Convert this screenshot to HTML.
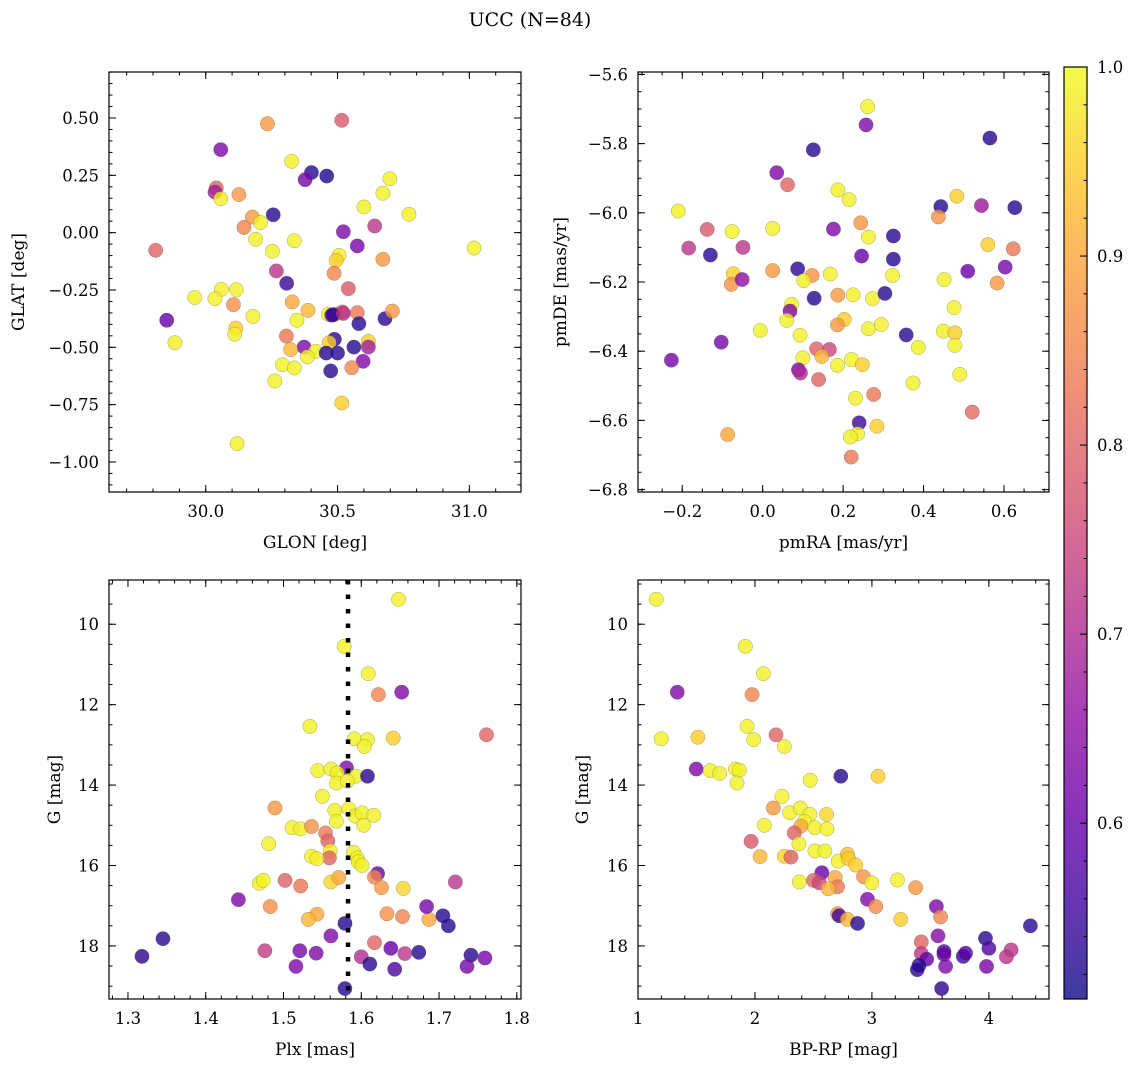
<!DOCTYPE html>
<html><head><meta charset="utf-8">
<style>
body{margin:0;background:#fff;}
svg{display:block;font-family:"DejaVu Serif","Liberation Serif",serif;}
</style></head>
<body>
<svg id="fig" width="1136" height="1067" viewBox="0 0 1136 1067" xmlns="http://www.w3.org/2000/svg">
<defs>
<linearGradient id="plasma" x1="0" y1="1" x2="0" y2="0">
<stop offset="0" stop-color="#0d0887"/><stop offset="0.1" stop-color="#41049d"/><stop offset="0.2" stop-color="#6a00a8"/>
<stop offset="0.3" stop-color="#8f0da4"/><stop offset="0.4" stop-color="#b12a90"/><stop offset="0.5" stop-color="#cc4778"/>
<stop offset="0.6" stop-color="#e16462"/><stop offset="0.7" stop-color="#f2844b"/><stop offset="0.8" stop-color="#fca636"/>
<stop offset="0.9" stop-color="#fcce25"/><stop offset="1" stop-color="#f0f921"/>
</linearGradient>
</defs>
<text x="530" y="26" font-size="19" text-anchor="middle">UCC (N=84)</text>
</svg>
<script>
// ---- Panel 1: GLON / GLAT ----
const glon = [30.234,30.516,30.057,30.326,30.401,30.459,30.377,30.040,30.035,30.057,30.126,30.698,30.672,30.600,30.771,30.256,30.177,30.208,30.145,30.641,30.189,30.336,30.522,30.575,29.810,30.253,31.018,30.506,30.495,30.672,30.487,30.268,30.307,30.541,29.958,30.059,30.035,30.116,30.105,30.328,29.852,30.179,30.388,30.346,30.465,30.493,30.518,30.575,30.581,30.680,30.708,30.478,29.883,30.114,30.110,30.306,30.488,30.468,30.373,30.322,30.417,30.385,30.457,30.500,30.562,30.617,30.617,30.597,30.554,30.291,30.336,30.474,30.262,30.516,30.119,30.483,30.522];
const glat = [0.475,0.490,0.362,0.311,0.262,0.247,0.231,0.195,0.177,0.148,0.166,0.235,0.172,0.112,0.080,0.078,0.068,0.044,0.023,0.029,-0.029,-0.035,0.004,-0.058,-0.077,-0.081,-0.067,-0.099,-0.121,-0.116,-0.177,-0.167,-0.221,-0.244,-0.283,-0.247,-0.288,-0.249,-0.314,-0.302,-0.382,-0.365,-0.339,-0.382,-0.356,-0.356,-0.346,-0.349,-0.397,-0.375,-0.342,-0.360,-0.480,-0.416,-0.443,-0.451,-0.465,-0.480,-0.499,-0.510,-0.517,-0.542,-0.525,-0.525,-0.499,-0.474,-0.499,-0.561,-0.589,-0.576,-0.590,-0.603,-0.647,-0.743,-0.920,-0.358,-0.352];
const prob1 = [0.88,0.78,0.63,0.99,0.53,0.52,0.62,0.8,0.68,0.99,0.88,0.99,0.99,0.99,0.99,0.53,0.88,0.99,0.85,0.72,0.99,0.99,0.63,0.62,0.8,0.99,0.99,0.99,0.95,0.88,0.85,0.72,0.55,0.78,0.99,0.99,0.99,0.99,0.87,0.9,0.6,0.99,0.92,0.99,0.99,0.99,0.78,0.83,0.53,0.53,0.88,0.62,0.99,0.95,0.99,0.83,0.53,0.95,0.63,0.92,0.99,0.99,0.53,0.53,0.53,0.95,0.68,0.63,0.86,0.99,0.99,0.53,0.99,0.95,0.99,0.53,0.72];
// ---- Panel 2: pmRA / pmDE ----
const pmra = [0.261,0.257,0.565,0.126,0.035,0.062,0.187,0.215,0.483,0.443,0.437,0.544,0.627,-0.210,-0.138,-0.076,0.025,0.176,0.244,0.263,0.325,-0.184,-0.130,-0.049,0.246,0.325,0.560,0.623,0.025,0.087,0.123,0.102,0.168,0.323,0.451,0.510,0.603,0.583,-0.073,-0.078,-0.051,0.128,0.187,0.225,0.273,0.304,0.476,0.072,0.068,0.060,0.203,0.186,0.263,0.295,-0.006,0.449,0.478,0.357,0.093,0.478,0.387,-0.103,0.134,0.166,0.147,0.100,0.221,0.248,0.186,-0.227,0.089,0.094,0.139,0.490,0.374,0.231,0.276,0.521,0.240,0.284,0.236,0.218,-0.087,0.220];
const pmde = [-5.693,-5.746,-5.784,-5.818,-5.884,-5.919,-5.934,-5.962,-5.952,-5.982,-6.012,-5.979,-5.985,-5.995,-6.048,-6.054,-6.045,-6.047,-6.029,-6.070,-6.067,-6.102,-6.122,-6.100,-6.125,-6.134,-6.092,-6.104,-6.167,-6.162,-6.181,-6.196,-6.177,-6.181,-6.193,-6.169,-6.157,-6.203,-6.176,-6.207,-6.193,-6.247,-6.238,-6.237,-6.248,-6.233,-6.274,-6.265,-6.284,-6.311,-6.308,-6.324,-6.335,-6.323,-6.340,-6.342,-6.347,-6.353,-6.354,-6.383,-6.389,-6.374,-6.393,-6.395,-6.415,-6.419,-6.424,-6.439,-6.441,-6.426,-6.454,-6.463,-6.482,-6.467,-6.492,-6.536,-6.525,-6.576,-6.607,-6.617,-6.639,-6.648,-6.641,-6.706];
const prob2 = [0.99,0.63,0.53,0.53,0.63,0.8,0.99,0.99,0.95,0.53,0.87,0.67,0.53,0.99,0.78,0.99,0.99,0.63,0.88,0.99,0.53,0.72,0.53,0.72,0.6,0.53,0.95,0.83,0.88,0.53,0.87,0.99,0.99,0.99,0.99,0.6,0.62,0.88,0.95,0.87,0.65,0.53,0.88,0.99,0.99,0.53,0.99,0.99,0.63,0.99,0.95,0.88,0.99,0.99,0.99,0.99,0.95,0.53,0.99,0.99,0.99,0.62,0.8,0.75,0.92,0.99,0.99,0.95,0.99,0.62,0.62,0.7,0.8,0.99,0.99,0.99,0.83,0.81,0.55,0.95,0.99,0.99,0.9,0.83];
// ---- Panel 3: Plx / G ----
const plx = [1.648,1.578,1.609,1.622,1.652,1.534,1.761,1.591,1.608,1.604,1.641,1.544,1.561,1.581,1.569,1.593,1.608,1.568,1.582,1.550,1.489,1.566,1.584,1.592,1.601,1.616,1.568,1.603,1.511,1.522,1.536,1.554,1.557,1.481,1.560,1.559,1.536,1.543,1.590,1.595,1.596,1.601,1.621,1.617,1.626,1.654,1.469,1.474,1.502,1.522,1.561,1.571,1.721,1.442,1.483,1.543,1.532,1.579,1.633,1.653,1.687,1.684,1.705,1.712,1.345,1.318,1.561,1.476,1.521,1.542,1.617,1.638,1.656,1.674,1.600,1.611,1.643,1.516,1.741,1.759,1.736,1.579];
const gmag3 = [9.38,10.55,11.23,11.75,11.69,12.54,12.75,12.85,12.87,13.04,12.83,13.64,13.60,13.57,13.70,13.78,13.78,13.95,13.90,14.28,14.57,14.63,14.59,14.77,14.69,14.75,14.90,15.00,15.06,15.09,15.03,15.19,15.39,15.46,15.64,15.81,15.77,15.83,15.67,15.81,15.91,16.00,16.20,16.29,16.55,16.57,16.44,16.37,16.37,16.51,16.41,16.30,16.41,16.85,17.02,17.21,17.34,17.44,17.20,17.27,17.34,17.02,17.25,17.50,17.82,18.26,17.75,18.12,18.12,18.18,17.92,18.06,18.19,18.16,18.27,18.45,18.58,18.51,18.23,18.30,18.51,19.06];
const prob3 = [0.99,0.99,0.99,0.85,0.63,0.99,0.8,0.99,0.99,0.99,0.95,0.99,0.99,0.63,0.99,0.99,0.53,0.99,0.99,0.99,0.88,0.99,0.99,0.99,0.99,0.99,0.99,0.99,0.99,0.99,0.87,0.83,0.8,0.99,0.99,0.8,0.99,0.99,0.99,0.99,0.99,0.99,0.6,0.85,0.88,0.96,0.99,0.99,0.8,0.83,0.96,0.9,0.72,0.63,0.87,0.9,0.92,0.53,0.87,0.85,0.9,0.62,0.53,0.53,0.53,0.53,0.63,0.73,0.62,0.63,0.8,0.6,0.72,0.53,0.7,0.53,0.57,0.63,0.53,0.62,0.62,0.53];
// ---- Panel 4: BP-RP / G ----
const bprp = [1.156,1.918,2.072,1.975,1.336,1.933,2.180,1.989,2.251,1.199,1.512,1.498,1.617,1.699,1.833,1.867,1.847,2.734,3.053,2.473,2.231,2.157,2.297,2.388,2.470,2.612,2.422,2.393,2.513,2.615,2.080,2.336,1.967,2.376,2.513,2.598,2.251,2.308,2.044,2.712,2.791,2.800,2.862,2.572,2.928,2.999,3.218,3.374,2.379,2.501,2.550,2.686,2.706,2.626,2.962,3.033,2.706,2.720,2.791,2.877,3.246,3.551,3.587,4.355,3.565,3.422,3.971,4.000,3.422,3.468,3.403,3.388,3.616,3.616,3.781,3.801,3.630,3.980,4.190,4.150,3.596];
const gmag4 = [9.38,10.55,11.23,11.75,11.69,12.54,12.75,12.87,13.04,12.85,12.81,13.60,13.64,13.71,13.60,13.63,13.95,13.78,13.78,13.88,14.28,14.57,14.69,14.57,14.73,14.73,14.90,15.02,15.06,15.09,15.00,15.19,15.40,15.46,15.64,15.64,15.77,15.79,15.78,15.89,15.72,15.83,15.99,16.18,16.28,16.43,16.36,16.55,16.41,16.37,16.43,16.30,16.53,16.58,16.84,17.02,17.20,17.25,17.34,17.44,17.34,17.02,17.28,17.50,17.75,17.90,17.81,18.06,18.19,18.33,18.48,18.59,18.14,18.21,18.26,18.18,18.51,18.51,18.10,18.27,19.06];
const prob4 = [0.99,0.99,0.99,0.85,0.63,0.99,0.8,0.99,0.99,0.99,0.95,0.63,0.99,0.99,0.99,0.99,0.99,0.53,0.95,0.99,0.99,0.88,0.99,0.99,0.99,0.96,0.99,0.9,0.99,0.99,0.99,0.8,0.78,0.99,0.99,0.99,0.96,0.8,0.92,0.99,0.93,0.95,0.95,0.6,0.87,0.99,0.99,0.88,0.99,0.8,0.75,0.9,0.83,0.92,0.63,0.86,0.87,0.55,0.92,0.53,0.95,0.63,0.85,0.53,0.64,0.8,0.53,0.57,0.72,0.6,0.53,0.53,0.57,0.6,0.55,0.58,0.63,0.62,0.72,0.72,0.53];
const plxRef = [1.583];
const cbarTicks = [0.6,0.7,0.8,0.9,1.0];

const svg = document.getElementById('fig');
const NS = 'http://www.w3.org/2000/svg';
const vmin = 0.507, vmax = 1.0;
const stops = [[0,[13,8,135]],[0.1,[65,4,157]],[0.2,[106,0,168]],[0.3,[143,13,164]],[0.4,[177,42,144]],[0.5,[204,71,120]],[0.6,[225,100,98]],[0.7,[242,132,75]],[0.8,[252,166,54]],[0.9,[252,206,37]],[1,[240,249,33]]];
function cmap(v){
  let t = Math.max(0, Math.min(1, (v - vmin) / (vmax - vmin)));
  for (let i = 1; i < stops.length; i++) {
    if (t <= stops[i][0]) {
      const a = stops[i-1], b = stops[i], f = (t - a[0]) / (b[0] - a[0]);
      const c = a[1].map((x, k) => Math.round(x + (b[1][k] - x) * f));
      return 'rgb(' + c.join(',') + ')';
    }
  }
  return 'rgb(240,249,33)';
}
function mk(tag, attrs, parent){
  const e = document.createElementNS(NS, tag);
  for (const k in attrs) e.setAttribute(k, attrs[k]);
  (parent || svg).appendChild(e);
  return e;
}
function range(a, b, s){ const r = []; for (let v = a; v <= b + s*1e-6; v += s) r.push(+v.toFixed(6)); return r; }

function panel(cfg){
  const {x0, y0, w, h, xmin, xmax, ymin, ymax, xs, ys, ps, name} = cfg;
  const sx = v => x0 + (v - xmin) / (xmax - xmin) * w;
  const sy = cfg.invert ? (v => y0 + (v - ymin) / (ymax - ymin) * h) : (v => y0 + h - (v - ymin) / (ymax - ymin) * h);
  const g = mk('g', {});
  
  
  const pts = mk('g', {}, g);
  
  
  for (let i = 0; i < xs.length; i++) {
    const c = mk('circle', {cx: sx(xs[i]), cy: sy(ys[i]), r: 7.2, fill: cmap(ps[i]), 'fill-opacity': 0.8, stroke: '#555', 'stroke-opacity': 0.5, 'stroke-width': 0.5}, pts);
    
    
  }
  if (cfg.extra) cfg.extra(g, sx, sy);
  const ax = mk('g', {stroke: '#000', 'stroke-width': 1}, g);
  
  
  mk('rect', {x: x0, y: y0, width: w, height: h, fill: 'none', 'stroke-width': 1.2}, ax);
  cfg.xminor.forEach(v => { const X = sx(v); if (X < x0 || X > x0 + w) return; mk('line', {x1: X, x2: X, y1: y0 + h, y2: y0 + h - 3.5}, ax); mk('line', {x1: X, x2: X, y1: y0, y2: y0 + 3.5}, ax); });
  cfg.yminor.forEach(v => { const Y = sy(v); if (Y < y0 || Y > y0 + h) return; mk('line', {x1: x0, x2: x0 + 3.5, y1: Y, y2: Y}, ax); mk('line', {x1: x0 + w, x2: x0 + w - 3.5, y1: Y, y2: Y}, ax); });
  cfg.xmajor.forEach((v, i) => {
    const X = sx(v);
    mk('line', {x1: X, x2: X, y1: y0 + h, y2: y0 + h - 7}, ax); mk('line', {x1: X, x2: X, y1: y0, y2: y0 + 7}, ax);
    const t = mk('text', {x: X, y: y0 + h + 25, 'font-size': 16.5, 'text-anchor': 'middle'}, g);
    t.textContent = cfg.xlab[i];
    
    
  });
  cfg.ymajor.forEach((v, i) => {
    const Y = sy(v);
    mk('line', {x1: x0, x2: x0 + 7, y1: Y, y2: Y}, ax); mk('line', {x1: x0 + w, x2: x0 + w - 7, y1: Y, y2: Y}, ax);
    const t = mk('text', {x: x0 - 10, y: Y + 6, 'font-size': 16.5, 'text-anchor': 'end'}, g);
    t.textContent = cfg.ylab[i];
    
    
  });
  const xt = mk('text', {x: x0 + w / 2, y: y0 + h + 56, 'font-size': 17, 'text-anchor': 'middle'}, g);
  xt.textContent = cfg.xtitle;
  
  
  const yx = cfg.ytx, yy = y0 + h / 2;
  const yt = mk('text', {x: yx, y: yy, 'font-size': 17, 'text-anchor': 'middle', transform: 'rotate(-90 ' + yx + ' ' + yy + ')'}, g);
  yt.textContent = cfg.ytitle;
  
  
}

const fmt = (d) => v => (v < 0 ? '\u2212' : '') + Math.abs(v).toFixed(d);

panel({name: 'glon-glat', x0: 109, y0: 72, w: 412, h: 420, xmin: 29.633, xmax: 31.196, ymin: -1.131, ymax: 0.7006,
  xs: glon, ys: glat, ps: prob1, xmajor: [30.0, 30.5, 31.0], xlab: ['30.0','30.5','31.0'], xminor: range(29.7, 31.2, 0.1),
  ymajor: range(-1.0, 0.5, 0.25), ylab: range(-1.0, 0.5, 0.25).map(fmt(2)), yminor: range(-1.1, 0.7, 0.05),
  xtitle: 'GLON [deg]', ytitle: 'GLAT [deg]', ytx: 24});
panel({name: 'pm', x0: 638, y0: 72, w: 411, h: 420, xmin: -0.31, xmax: 0.712, ymin: -6.807, ymax: -5.593,
  xs: pmra, ys: pmde, ps: prob2, xmajor: range(-0.2, 0.6, 0.2), xlab: range(-0.2, 0.6, 0.2).map(fmt(1)), xminor: range(-0.3, 0.7, 0.05),
  ymajor: range(-6.8, -5.6, 0.2), ylab: range(-6.8, -5.6, 0.2).map(fmt(1)), yminor: range(-6.8, -5.6, 0.05),
  xtitle: 'pmRA [mas/yr]', ytitle: 'pmDE [mas/yr]', ytx: 566});
panel({name: 'plx-g', x0: 109, y0: 580, w: 412, h: 419, xmin: 1.2756, xmax: 1.8054, ymin: 8.90, ymax: 19.32, invert: true,
  xs: plx, ys: gmag3, ps: prob3, xmajor: range(1.3, 1.8, 0.1), xlab: range(1.3, 1.8, 0.1).map(fmt(1)), xminor: range(1.28, 1.80, 0.02),
  ymajor: [10, 12, 14, 16, 18], ylab: ['10','12','14','16','18'], yminor: range(9, 19, 0.5),
  xtitle: 'Plx [mas]', ytitle: 'G [mag]', ytx: 60,
  extra: (g, sx, sy) => {
    const l = mk('line', {x1: sx(plxRef[0]), x2: sx(plxRef[0]), y1: 580, y2: 999, stroke: '#000', 'stroke-width': 4.5, 'stroke-dasharray': '4.5 10'}, g);
    
    
  }});
panel({name: 'cmd', x0: 638, y0: 580, w: 411, h: 419, xmin: 1.0, xmax: 4.514, ymin: 8.90, ymax: 19.32, invert: true,
  xs: bprp, ys: gmag4, ps: prob4, xmajor: [1, 2, 3, 4], xlab: ['1','2','3','4'], xminor: range(1, 4.4, 0.2),
  ymajor: [10, 12, 14, 16, 18], ylab: ['10','12','14','16','18'], yminor: range(9, 19, 0.5),
  xtitle: 'BP-RP [mag]', ytitle: 'G [mag]', ytx: 588});

// colorbar
const cb = mk('g', {});


const cbx = 1064, cbw = 23, cby0 = 67, cby1 = 999;
const cy = v => cby1 - (v - vmin) / (vmax - vmin) * (cby1 - cby0);
mk('rect', {x: cbx, y: cby0, width: cbw, height: cby1 - cby0, fill: 'url(#plasma)', 'fill-opacity': 0.8}, cb);
mk('rect', {x: cbx, y: cby0, width: cbw, height: cby1 - cby0, fill: 'none', stroke: '#000', 'stroke-width': 1.2}, cb);
range(0.52, 1.0, 0.02).forEach(v => mk('line', {x1: cbx + cbw, x2: cbx + cbw - 3.5, y1: cy(v), y2: cy(v), stroke: '#000'}, cb));
cbarTicks.forEach(v => {
  mk('line', {x1: cbx + cbw, x2: cbx + cbw - 7, y1: cy(v), y2: cy(v), stroke: '#000'}, cb);
  const t = mk('text', {x: cbx + cbw + 10, y: cy(v) + 6, 'font-size': 16.5}, cb);
  t.textContent = v.toFixed(1);
  
  
});
</script>
</body></html>
